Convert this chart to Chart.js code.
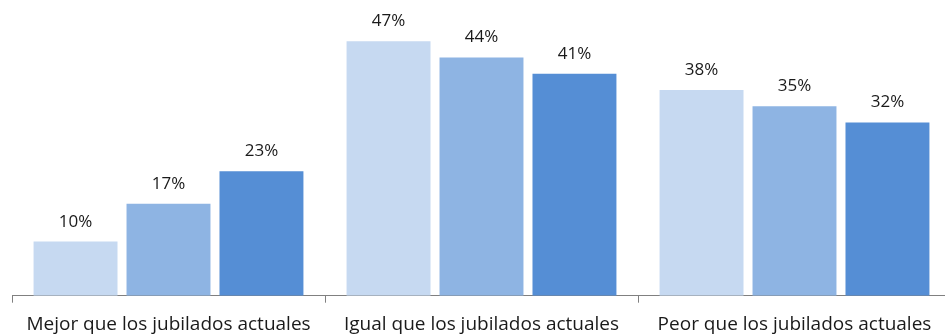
<!DOCTYPE html>
<html>
<head>
<meta charset="utf-8">
<script src="https://cdn.jsdelivr.net/npm/chart.js@4/dist/chart.umd.min.js"></script>
<style>
  html, body { margin: 0; padding: 0; background: #fff; overflow: hidden; }
  #wrap { width: 951px; height: 335px; }
</style>
</head>
<body>
<div id="wrap"><canvas id="chart"></canvas></div>
<script>
const categories = ['Mejor que los jubilados actuales', 'Igual que los jubilados actuales', 'Peor que los jubilados actuales'];
const serieA = [10, 47, 38];
const serieB = [17, 44, 35];
const serieC = [23, 41, 32];
const colores = ['#C6D9F1', '#8EB4E3', '#558ED5'];

// etiquetas de porcentaje encima de cada barra
const valueLabels = {
  id: 'valueLabels',
  afterDatasetsDraw(chart) {
    const c = chart.ctx;
    c.save();
    c.font = '17px "Open Sans"';
    c.fillStyle = '#1a1a1a';
    c.textAlign = 'center';
    c.textBaseline = 'alphabetic';
    chart.data.datasets.forEach((ds, i) => {
      chart.getDatasetMeta(i).data.forEach((bar, j) => {
        c.fillText(ds.data[j] + '%', bar.x, bar.y - 15);
      });
    });
    c.restore();
  }
};

new Chart(document.getElementById('chart'), {
  type: 'bar',
  data: {
    labels: categories,
    datasets: [
      { label: 'A', data: serieA, backgroundColor: colores[0] },
      { label: 'B', data: serieB, backgroundColor: colores[1] },
      { label: 'C', data: serieC, backgroundColor: colores[2] }
    ]
  },
  options: {
    responsive: true,
    maintainAspectRatio: false,
    animation: false,
    categoryPercentage: 0.891,
    barPercentage: 0.903,
    layout: { padding: { top: 25, left: 12, right: 0, bottom: -10.5 } },
    plugins: {
      legend: { display: false },
      tooltip: { enabled: false }
    },
    scales: {
      y: { display: false, min: 0, max: 50 },
      x: {
        border: { display: true, color: '#808080', width: 1 },
        grid: { offset: true, drawOnChartArea: false, drawTicks: true, tickLength: 7, color: '#808080' },
        ticks: { color: '#1a1a1a', font: { family: 'Open Sans', size: 19 }, padding: 10, maxRotation: 0 }
      }
    }
  },
  plugins: [valueLabels]
});
</script>
</body>
</html>
